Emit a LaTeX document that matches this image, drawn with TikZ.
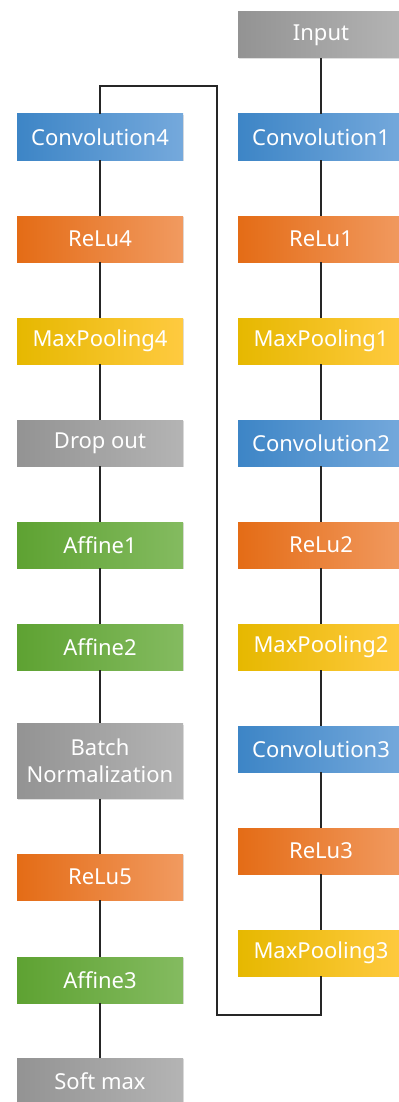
\documentclass[tikz,border=0pt]{standalone}
\usepackage{fontspec}
\setmainfont{Noto Sans}
\usetikzlibrary{positioning, shadows}

\definecolor{grayL}{HTML}{939393}\definecolor{grayM}{HTML}{A5A5A5}\definecolor{grayR}{HTML}{B4B4B4}
\definecolor{blueL}{HTML}{3D85C6}\definecolor{blueM}{HTML}{5B9BD5}\definecolor{blueR}{HTML}{75A9DC}
\definecolor{oranL}{HTML}{E46C16}\definecolor{oranM}{HTML}{F47C2A}\definecolor{oranR}{HTML}{F19A60}
\definecolor{yellL}{HTML}{E6B800}\definecolor{yellM}{HTML}{FFC000}\definecolor{yellR}{HTML}{FFCA40}
\definecolor{greeL}{HTML}{5EA232}\definecolor{greeM}{HTML}{70AD47}\definecolor{greeR}{HTML}{84BB60}

\begin{document}
\begin{tikzpicture}[
    x=0.5pt, y=-0.5pt,
    layer/.style={rectangle, minimum width=83pt, minimum height=23pt, inner sep=1pt,
        text=white, font=\fontsize{11}{13.5}\selectfont, align=center,
        drop shadow={opacity=0.25, shadow xshift=0.6pt, shadow yshift=-0.6pt}},
    gray/.style={layer, left color=grayL, middle color=grayM, right color=grayR},
    conv/.style={layer, left color=blueL, middle color=blueM, right color=blueR},
    relu/.style={layer, left color=oranL, middle color=oranM, right color=oranR},
    pool/.style={layer, left color=yellL, middle color=yellM, right color=yellR},
    affine/.style={layer, left color=greeL, middle color=greeM, right color=greeR},
    link/.style={draw=black!85, line width=0.7pt}
]
\useasboundingbox (0,0) rectangle (398,1102);

% Right column
\foreach \name/\txt/\sty/\y in {in/Input/gray/35, c1/Convolution1/conv/137, r1/ReLu1/relu/239,
    p1/MaxPooling1/pool/341, c2/Convolution2/conv/443, r2/ReLu2/relu/545,
    p2/MaxPooling2/pool/647, c3/Convolution3/conv/749, r3/ReLu3/relu/851,
    p3/MaxPooling3/pool/953} {
    \node[\sty] (\name) at (321,\y) {\txt};
}

% Left column
\foreach \name/\txt/\sty/\y in {c4/Convolution4/conv/137, r4/ReLu4/relu/239,
    p4/MaxPooling4/pool/341, drop/Drop out/gray/443, a1/Affine1/affine/545,
    a2/Affine2/affine/647, r5/ReLu5/relu/877, a3/Affine3/affine/980,
    soft/Soft max/gray/1081} {
    \node[\sty] (\name) at (100,\y) {\txt};
}
\node[gray, minimum height=37.5pt] (bn) at (100,761) {Batch\\Normalization};

% Connectors
\foreach \a/\b in {in/c1, c1/r1, r1/p1, p1/c2, c2/r2, r2/p2, p2/c3, c3/r3, r3/p3,
    c4/r4, r4/p4, p4/drop, drop/a1, a1/a2, a2/bn, bn/r5, r5/a3, a3/soft} {
    \draw[link] (\a) -- (\b);
}

% Loop back to the left column
\coordinate (loopbot) at (217,1015);
\coordinate (looptop) at (217,86);
\draw[link] (p3.south) |- (loopbot) -- (looptop) -| (c4.north);

\end{tikzpicture}
\end{document}
